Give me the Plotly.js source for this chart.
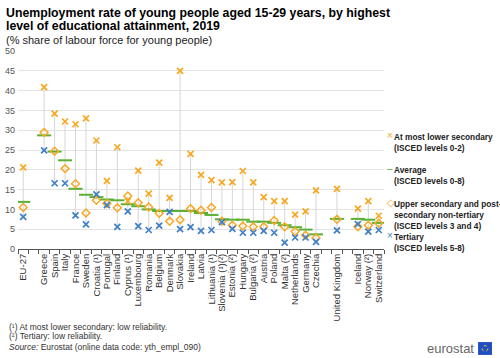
<!DOCTYPE html>
<html><head><meta charset="utf-8">
<script src="https://cdn.plot.ly/plotly-3.0.1.min.js"></script>
<style>html,body{margin:0;padding:0;background:#fff}#chart{width:500px;height:358px}</style>
</head><body><div id="chart"></div>
<script>
const countries = ["EU-27","","Greece","Spain","Italy","France","Sweden","Croatia (¹)","Portugal","Finland","Cyprus (¹)","Luxembourg","Romania","Belgium","Denmark","Slovakia","Ireland","Latvia","Lithuania (¹)","Slovenia (¹)(²)","Estonia (²)","Hungary","Bulgaria (²)","Austria","Poland","Malta (²)","Netherlands","Germany","Czechia","","United Kingdom","","Iceland","Norway (²)","Switzerland"];
const lowerSecondary = [20.6,null,40.9,34.2,32.2,31.5,33.0,27.4,17.2,25.7,12.1,19.8,14.0,21.8,12.9,45.0,24.0,18.7,17.4,16.8,16.9,19.7,16.8,13.1,12.1,12.1,8.7,9.5,14.8,null,15.2,null,10.2,12.1,8.4];
const average = [11.9,null,28.7,24.6,22.4,15.2,13.7,13.1,12.5,12.3,11.3,10.8,10.0,9.6,9.6,9.6,9.6,9.1,8.6,7.5,7.4,7.4,6.9,6.9,6.6,6.0,5.5,4.9,3.7,null,7.6,null,7.6,7.4,6.6];
const upperSecondary = [10.5,null,29.4,24.7,20.3,16.5,9.1,12.3,11.5,10.4,13.4,11.7,10.6,9.0,7.0,7.4,10.2,9.8,10.5,7.0,6.0,5.8,5.6,5.6,7.2,5.6,4.4,3.5,2.8,null,7.5,null,5.6,6.0,6.5];
const tertiary = [8.1,null,24.9,16.6,16.6,8.5,6.2,13.8,11.1,5.6,9.5,5.8,4.8,5.9,9.4,5.0,5.5,4.6,4.8,6.8,5.1,4.1,4.1,4.6,4.1,1.6,2.9,2.9,1.8,null,4.7,null,6.3,4.4,4.8];
const seriesNames = ["At most lower secondary<br>(ISCED levels 0-2)","Average<br>(ISCED levels 0-8)","Upper secondary and post-<br>secondary non-tertiary<br>(ISCED levels 3 and 4)","Tertiary<br>(ISCED levels 5-8)"];

// unique category keys (gaps are blank labels)
let g = 0;
const cats = countries.map(c => c === "" ? " ".repeat(++g) : c);

const lx = [], ly = [];
cats.forEach((c, i) => {
  const vals = [lowerSecondary[i], average[i], upperSecondary[i], tertiary[i]].filter(v => v !== null);
  if (vals.length) { lx.push(c, c, null); ly.push(Math.min(...vals), Math.max(...vals), null); }
});

const orange = "#F7A823", green = "#5BB034", blue = "#3F7FC5";
const traces = [
  {x: lx, y: ly, type: "scatter", mode: "lines", line: {color: "#d6d6d6", width: 1}, hoverinfo: "skip"},
  {x: cats, y: average, type: "scatter", mode: "markers", name: seriesNames[1],
   marker: {symbol: "line-ew", size: 10, line: {color: green, width: 2}}},
  {x: cats, y: upperSecondary, type: "scatter", mode: "markers", name: seriesNames[2],
   marker: {symbol: "diamond-open", size: 6, color: orange, line: {color: orange, width: 1.5}}},
  {x: cats, y: tertiary, type: "scatter", mode: "markers", name: seriesNames[3],
   marker: {symbol: "x-thin", size: 6, line: {color: blue, width: 1.7}}},
  {x: cats, y: lowerSecondary, type: "scatter", mode: "markers", name: seriesNames[0],
   marker: {symbol: "x-thin", size: 6, line: {color: orange, width: 1.7}}}
];

const font = "Arial, 'Liberation Sans', sans-serif";
const ann = [];
function txt(text, x, y, opts) {
  ann.push(Object.assign({text, xref: "paper", yref: "paper", x: 0, y: 1, xanchor: "left", yanchor: "middle",
    xshift: x - 18, yshift: 51 - y, showarrow: false, align: "left", font: {size: 8.5, color: "#333"}}, opts || {}));
}
// titles
txt("<b>Unemployment rate of young people aged 15-29 years, by highest</b>", 4, 13, {font: {size: 12.3, color: "#000"}});
txt("<b>level of educational attainment, 2019</b>", 4, 26, {font: {size: 12.3, color: "#000"}});
txt("(% share of labour force for young people)", 4, 40, {font: {size: 11, color: "#222"}});
// legend (text keys)
const legendSym = [["×", orange], ["–", green], ["◇", orange], ["×", blue]];
const legendY = [130, 163, 197, 230];
seriesNames.forEach((n, i) => {
  txt(legendSym[i][0], 385, legendY[i] + 5, {font: {size: 10, color: legendSym[i][1]}});
  txt("<b>" + n + "</b>", 392, legendY[i], {yanchor: "top", font: {size: 8.3, color: "#222"}});
});
// footnotes
txt("(¹) At most lower secondary: low reliability.", 7, 327);
txt("(²) Tertiary: low reliability.", 7, 336);
txt("<i>Source:</i> Eurostat (online data code: yth_empl_090)", 7, 347);
txt("eurostat", 425, 348, {font: {size: 13, color: "#666"}});

const layout = {
  width: 500, height: 358,
  margin: {l: 18, r: 116, t: 51, b: 109},
  paper_bgcolor: "#fff", plot_bgcolor: "#fff",
  font: {family: font, color: "#000"},
  showlegend: false,
  xaxis: {type: "category", categoryorder: "array", categoryarray: cats, tickson: "boundaries",
          tickmode: "array", tickvals: cats, ticktext: countries,
          ticks: "outside", ticklen: 4, tickcolor: "#555", showline: true, linecolor: "#555", linewidth: 1,
          tickangle: -90, tickfont: {size: 9.5, color: "#333"}, showgrid: false, range: [-0.5, cats.length - 0.5]},
  yaxis: {range: [0, 50], dtick: 5, showgrid: true, gridcolor: "#e3e3e3", gridwidth: 1, zeroline: false,
          tickfont: {size: 9, color: "#555"}, ticks: "", ticklabelstandoff: 2},
  annotations: ann,
  shapes: [
    {type: "rect", xref: "paper", yref: "paper", x0: 1.257, x1: 1.295, y0: -0.535, y1: -0.47, fillcolor: "#1f4ec2", line: {width: 0}},
    {type: "circle", xref: "paper", yref: "paper", x0: 1.268, x1: 1.284, y0: -0.517, y1: -0.488, line: {color: "#ffdd00", width: 1, dash: "dot"}}
  ]
};
Plotly.newPlot("chart", traces, layout, {displayModeBar: false, staticPlot: true});
</script></body></html>
